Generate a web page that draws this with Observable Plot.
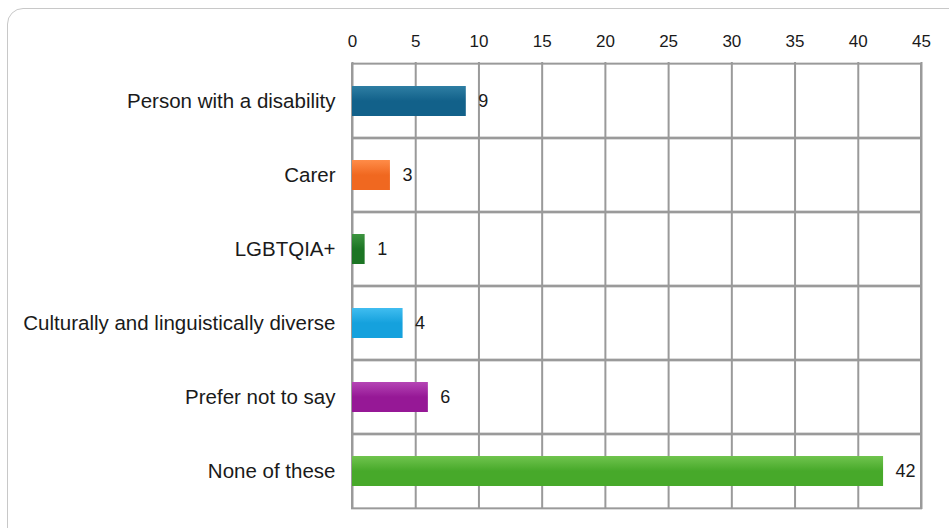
<!DOCTYPE html>
<html>
<head>
<meta charset="utf-8">
<script src="https://cdn.jsdelivr.net/npm/d3@7"></script>
<script src="https://cdn.jsdelivr.net/npm/@observablehq/plot@0.6"></script>
<style>
  html, body { margin: 0; padding: 0; background: #fff; }
  #wrap { position: relative; width: 949px; height: 528px; overflow: hidden; }
  #frame { position: absolute; left: 7px; top: 8px; width: 960px; height: 540px;
           border: 1.5px solid #c8c8c8; border-radius: 16px; box-sizing: border-box; }
  #chart { position: absolute; left: 0; top: 0; }
</style>
</head>
<body>
<div id="wrap"><div id="frame"></div><div id="chart"></div></div>
<script>
const categories = ["Person with a disability", "Carer", "LGBTQIA+", "Culturally and linguistically diverse", "Prefer not to say", "None of these"];
const values = [9, 3, 1, 4, 6, 42];
const xTicks = [0, 5, 10, 15, 20, 25, 30, 35, 40, 45];
const colorTop = ["#2e7ea3", "#ff8c48", "#3d9440", "#40bdf0", "#b545b5", "#70c44e"];
const colorBottom = ["#12618a", "#f06820", "#1c7524", "#15a1dd", "#961896", "#47a92a"];

const data = categories.map((c, i) => ({category: c, value: values[i], i}));

const pad = 0.6;
const plot = Plot.plot({
  width: 949,
  height: 528,
  marginLeft: 352,
  marginRight: 28,
  marginTop: 62,
  marginBottom: 19,
  style: {fontFamily: "'Liberation Sans', Arial, sans-serif", fontSize: "17px", color: "#1a1a1a", background: "transparent"},
  x: {domain: [0, 45], label: null},
  y: {domain: categories, padding: pad, paddingOuter: pad / 2, label: null},
  marks: [
    Plot.axisX(xTicks, {anchor: "top", tickSize: 0, tickPadding: 16, fontSize: 17, label: null}),
    Plot.axisY({tickSize: 0, tickPadding: 17, fontSize: 20.5, label: null}),
    Plot.ruleX(xTicks, {stroke: "#9a9a9a", strokeWidth: 2, strokeOpacity: 1}),
    Plot.barX(categories, {x1: 0, x2: 45, y: d => d, fill: "none", stroke: "#9a9a9a", strokeWidth: 2,
      insetTop: -22.35, insetBottom: -22.35}),
    Plot.barX(data, {x: "value", y: "category", fill: d => `url(#grad${d.i})`}),
    Plot.text(data, {x: "value", y: "category", text: d => String(d.value), textAnchor: "start", dx: 12, fill: "#1a1a1a", fontSize: 18})
  ]
});

// gradient definitions for the glossy bars
const ns = "http://www.w3.org/2000/svg";
const defs = document.createElementNS(ns, "defs");
categories.forEach((c, i) => {
  const g = document.createElementNS(ns, "linearGradient");
  g.setAttribute("id", `grad${i}`);
  g.setAttribute("x1", "0"); g.setAttribute("y1", "0");
  g.setAttribute("x2", "0"); g.setAttribute("y2", "1");
  [[0, colorTop[i]], [0.5, colorBottom[i]], [1, colorBottom[i]]].forEach(([o, col]) => {
    const s = document.createElementNS(ns, "stop");
    s.setAttribute("offset", o);
    s.setAttribute("stop-color", col);
    g.appendChild(s);
  });
  defs.appendChild(g);
});
plot.insertBefore(defs, plot.firstChild);
document.getElementById("chart").appendChild(plot);
</script>
</body>
</html>
